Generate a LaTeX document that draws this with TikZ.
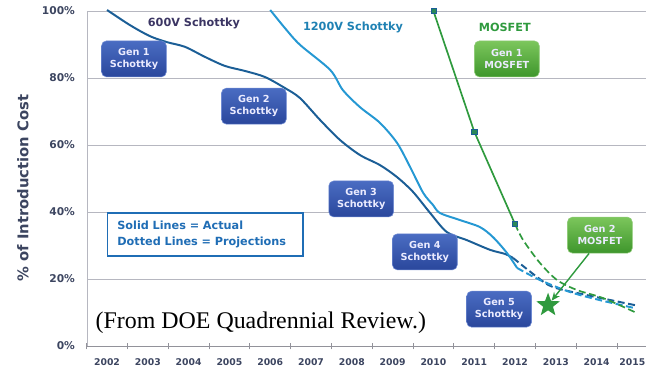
\documentclass[tikz,border=0pt]{standalone}
\usepackage{fontspec}
\setmainfont{DejaVu Sans}
\newfontfamily\doefont{Liberation Serif}
\usepackage{tikz}
\usetikzlibrary{shapes.geometric,arrows.meta}
\definecolor{gridgray}{HTML}{B6B7C0}
\definecolor{axtext}{HTML}{3C4560}
\definecolor{darkblu}{HTML}{1B5E96}
\definecolor{lightblu}{HTML}{2598D3}
\definecolor{mosgreen}{HTML}{2F9A3E}
\definecolor{purptext}{HTML}{3B3563}
\definecolor{legblue}{HTML}{1F6DB5}
\definecolor{boxtop}{HTML}{4A6CC2}
\definecolor{boxbot}{HTML}{2A479C}
\definecolor{boxedge}{HTML}{6E8AD2}
\definecolor{mostop}{HTML}{7CC65C}
\definecolor{mosbot}{HTML}{3E962C}
\definecolor{mosedge}{HTML}{8FCB78}
\tikzset{
  genbox/.style={rounded corners=3.5pt,draw=boxedge,top color=boxtop,bottom color=boxbot,
    text=white!92!blue,font=\fontsize{6.9}{8.8}\selectfont\bfseries,align=center,minimum width=1.62cm,minimum height=0.9cm,inner sep=1pt},
  mosbox/.style={genbox,draw=mosedge,top color=mostop,bottom color=mosbot},
  curv600/.style={darkblu,line width=1.4pt},
  curv1200/.style={lightblu,line width=1.4pt},
  curvmos/.style={mosgreen,line width=1.2pt},
  proj/.style={dash pattern=on 5pt off 2.5pt},
  sqmark/.style={draw=darkblu,fill=mosgreen!70!darkblu,minimum size=0.13cm,inner sep=0pt},
  ticklab/.style={font=\fontsize{7.6}{9}\selectfont\bfseries,text=axtext,anchor=east,inner sep=0pt},
  yearlab/.style={font=\fontsize{6.6}{8}\selectfont\bfseries,text=axtext,inner sep=0pt},
  serieslab/.style={font=\fontsize{8}{10}\selectfont\bfseries,inner sep=0pt}
}
\begin{document}
\begin{tikzpicture}[x=1.02cm,y=0.08375cm]
  \useasboundingbox (-2.623,-7.76) rectangle (13.21,103.28);
  % grid and axes
  \foreach \p in {20,40,60,80,100}
    \draw[gridgray,line width=0.6pt] (-0.49,\p) -- (13.21,\p);
  \draw[gridgray!80!black,line width=0.6pt] (-0.49,0) -- (13.21,0);
  \draw[gridgray,line width=0.6pt] (-0.49,0) -- (-0.49,100);
  \foreach \k in {0,...,13}
    \draw[gridgray!80!black,line width=0.6pt] (\k-0.5,-1) -- (\k-0.5,1);
  \foreach \p in {0,20,40,60,80,100}
    \node[ticklab] (tl\p) at (-0.78,\p) {\p\%};
  \foreach \yr [count=\i from 0] in {2002,...,2014}
    \node[yearlab] (yl\i) at (\i,-4.8) {\yr};
  \node[yearlab,anchor=east] (yl13) at (13.2,-4.8) {2015};
  \node[rotate=90,font=\fontsize{10.5}{12}\selectfont\bfseries,text=axtext] (ylab) at (-2.06,47.2) {\% of Introduction Cost};
  % curves
  \draw[curv600] plot[smooth] coordinates {(0,100.3) (0.56,95.8) (1.05,92.5) (1.47,90.7) (1.91,89.3) (2.40,86.3)
    (2.89,83.6) (3.38,82.1) (3.87,80.3) (4.36,77.0) (4.73,74.0) (5.22,67.5) (5.71,61.5) (6.20,57.0) (6.69,54.0)
    (7.11,50.4) (7.50,46.0) (7.92,39.7) (8.33,34.0) (8.82,31.6) (9.39,28.7) (9.75,27.5) (9.95,26.3)};
  \draw[curv600,proj] plot[smooth] coordinates {(9.95,26.3) (10.54,20.6) (10.93,17.6) (11.76,15.2) (12.94,12.2)};
  \draw[curv1200] plot[smooth] coordinates {(4.0,100.3) (4.36,94.9) (4.73,89.9) (5.47,82.4) (5.78,76.4) (6.20,71.3)
    (6.69,66.6) (7.11,60.6) (7.43,53.4) (7.75,45.7) (7.99,42.1) (8.16,39.7) (8.65,37.6) (9.14,35.5) (9.46,32.5)
    (9.80,27.8) (10.05,23.3)};
  \draw[curv1200,proj] plot[smooth] coordinates {(10.05,23.3) (10.61,19.7) (11.35,16.1) (12.08,13.7) (12.94,11.3)};
  \coordinate (m1) at (8,100);
  \coordinate (m2) at (9,64);
  \coordinate (m3) at (10,36.4);
  \draw[curvmos] (m1) -- (m2) -- (m3);
  \draw[curvmos,proj] plot[smooth] coordinates {(10,36.4) (10.2,31.6) (10.61,24.8) (11.03,19.7) (11.52,16.7) (12.16,14.3) (12.94,10.1)};
  \node[sqmark] (sq1) at (m1) {};
  \node[sqmark] (sq2) at (m2) {};
  \node[sqmark] (sq3) at (m3) {};
  % series labels
  \node[serieslab,text=purptext] (l600) at (2.13,96.4) {600V Schottky};
  \node[serieslab,text=lightblu!85!black] (l1200) at (6.03,95.2) {1200V Schottky};
  \node[serieslab,text=mosgreen] (lmos) at (9.75,95.2) {MOSFET};
  % generation boxes
  \node[genbox] (g1s) at (0.66,85.7) {Gen 1\\Schottky};
  \node[genbox] (g2s) at (3.60,71.6) {Gen 2\\Schottky};
  \node[genbox] (g3s) at (6.23,43.9) {Gen 3\\Schottky};
  \node[genbox] (g4s) at (7.79,28.1) {Gen 4\\Schottky};
  \node[genbox] (g5s) at (9.61,11.0) {Gen 5\\Schottky};
  \node[mosbox] (g1m) at (9.80,85.7) {Gen 1\\MOSFET};
  \node[mosbox] (g2m) at (12.08,33.1) {Gen 2\\MOSFET};
  \node[star,star points=5,star point ratio=2.4,fill=mosgreen,minimum size=0.62cm,inner sep=0pt] (gstar) at (10.81,12.2) {};
  \draw[-{Stealth[length=6pt,width=5pt]},mosgreen,line width=1pt] ([xshift=-0.27cm]g2m.south) -- (gstar);
  % legend and source
  \node[draw=legblue,line width=0.9pt,fill=white,text=legblue,font=\fontsize{8}{11.9}\selectfont\bfseries,
    align=left,text width=4.4cm,inner xsep=0.24cm,minimum height=1.075cm] (leg) at (2.41,33.3)
    {Solid Lines = Actual\\Dotted Lines = Projections};
  \node[font=\doefont\fontsize{17}{20}\selectfont,inner sep=0pt] (src) at (3.77,6.9) {(From DOE Quadrennial Review.)};
\end{tikzpicture}
\end{document}
